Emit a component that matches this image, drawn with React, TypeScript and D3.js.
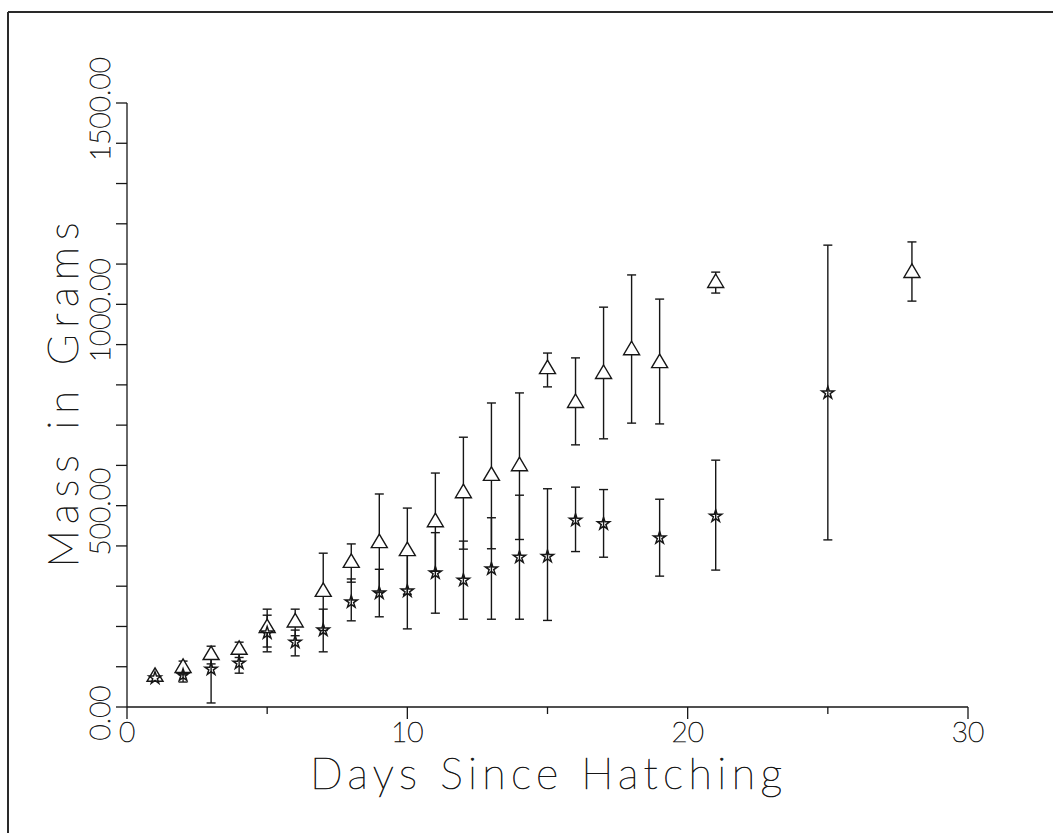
import * as d3 from 'd3';

// growth data (grams)
const triDays = [1, 2, 3, 4, 5, 6, 7, 8, 9, 10, 11, 12, 13, 14, 15, 16, 17, 18, 19, 21, 28];
const triMean = [75, 97, 129, 142, 196, 210, 286, 358, 407, 387, 459, 531, 574, 598, 839, 755, 827, 886, 854, 1053, 1078];
const triLow = [75, 80, 107, 123, 149, 177, 190, 310, 285, 280, 337, 392, 393, 416, 795, 651, 666, 705, 703, 1028, 1008];
const triHigh = [75, 114, 151, 161, 243, 243, 382, 405, 529, 494, 581, 670, 755, 780, 879, 867, 993, 1073, 1013, 1080, 1155];

const starDays = [1, 2, 3, 4, 5, 6, 7, 8, 9, 10, 11, 12, 13, 14, 15, 16, 17, 19, 21, 25];
const starMean = [72, 79, 94, 109, 184, 161, 191, 261, 283, 288, 333, 315, 343, 372, 374, 464, 455, 420, 474, 780];
const starLow = [72, 62, 10, 84, 137, 127, 137, 214, 224, 194, 233, 218, 218, 218, 215, 386, 372, 325, 340, 415];
const starHigh = [72, 96, 120, 134, 228, 191, 243, 318, 342, 382, 433, 412, 470, 526, 542, 546, 540, 516, 613, 1147];

const xMajor = [0, 10, 20, 30];
const xMinor = [5, 15, 25];
const yLabelled = [0, 500, 1000, 1500];
const yTickStep = 100;

const W = 1053;
const H = 833;
const INK = '#161616';
const FONT = "Lato, 'DejaVu Sans', sans-serif";

const x = d3.scaleLinear().domain([0, 30]).range([127, 968]);
const y = d3.scaleLinear().domain([0, 1500]).range([707, 103]);

const yTicks = d3.range(0, 1500 + 1, yTickStep);
const fmtY = d3.format('.2f');
const starPath = d3.symbol(d3.symbolStar, 46)() as string;
const triPath = 'M0,-9L8,4.5L-8,4.5Z';

// thin plotter-style lettering: hairline face plus a light stroke
const textStyle = {
  fontFamily: FONT,
  fontWeight: 100,
  fill: INK,
  stroke: INK,
  strokeWidth: 0.7,
};

function ErrorBars({ days, low, high }: { days: number[]; low: number[]; high: number[] }) {
  return (
    <g stroke={INK} strokeWidth={1.4}>
      {days.map((d, i) => {
        if (low[i] === high[i]) return null;
        const cx = x(d);
        return (
          <g key={d}>
            <line x1={cx} x2={cx} y1={y(low[i])} y2={y(high[i])} />
            <line x1={cx - 4.5} x2={cx + 4.5} y1={y(low[i])} y2={y(low[i])} />
            <line x1={cx - 4.5} x2={cx + 4.5} y1={y(high[i])} y2={y(high[i])} />
          </g>
        );
      })}
    </g>
  );
}

export default function App() {
  return (
    <svg
      width={W}
      height={H}
      viewBox={`0 0 ${W} ${H}`}
      style={{ position: 'absolute', left: 0, top: 0, background: '#fff', display: 'block' }}
    >
      {/* scan frame */}
      <line x1={8} x2={W} y1={12} y2={12} stroke="#2a2a2a" strokeWidth={2} />
      <line x1={8} x2={8} y1={12} y2={H} stroke="#2a2a2a" strokeWidth={2} />

      {/* y axis */}
      <g stroke={INK} strokeWidth={1.3}>
        <line x1={x(0)} x2={x(0)} y1={y(0)} y2={y(1500)} />
        {yTicks.map(t => (
          <line key={t} x1={x(0) - 11} x2={x(0)} y1={y(t)} y2={y(t)} />
        ))}
      </g>
      {yLabelled.map(t => (
        <text
          key={t}
          transform={`translate(110,${y(t) + 6}) rotate(-90)`}
          textAnchor="middle"
          fontSize={28}
          style={textStyle}
        >
          {fmtY(t)}
        </text>
      ))}
      <text
        transform={`translate(78,${y(0) - 312}) rotate(-90)`}
        textAnchor="middle"
        fontSize={42}
        textLength={345}
        lengthAdjust="spacing"
        style={textStyle}
      >
        Mass in Grams
      </text>

      {/* x axis */}
      <g stroke={INK} strokeWidth={1.3}>
        <line x1={x(0)} x2={x(30)} y1={y(0)} y2={y(0)} />
        {xMajor.map(t => (
          <line key={t} x1={x(t)} x2={x(t)} y1={y(0)} y2={y(0) + 12} />
        ))}
        {xMinor.map(t => (
          <line key={t} x1={x(t)} x2={x(t)} y1={y(0)} y2={y(0) + 7} />
        ))}
      </g>
      {xMajor.map(t => (
        <text key={t} x={x(t)} y={742} textAnchor="middle" fontSize={28} style={textStyle}>
          {t}
        </text>
      ))}
      <text
        x={546}
        y={789}
        textAnchor="middle"
        fontSize={43}
        textLength={472}
        lengthAdjust="spacing"
        style={textStyle}
      >
        Days Since Hatching
      </text>

      {/* data */}
      <ErrorBars days={triDays} low={triLow} high={triHigh} />
      <ErrorBars days={starDays} low={starLow} high={starHigh} />
      <g fill="#fff" stroke={INK} strokeWidth={1.4}>
        {triDays.map((d, i) => (
          <path key={d} d={triPath} transform={`translate(${x(d)},${y(triMean[i])})`} />
        ))}
      </g>
      <g fill="none" stroke={INK} strokeWidth={1.5}>
        {starDays.map((d, i) => (
          <path key={d} d={starPath} transform={`translate(${x(d)},${y(starMean[i])})`} />
        ))}
      </g>
    </svg>
  );
}
